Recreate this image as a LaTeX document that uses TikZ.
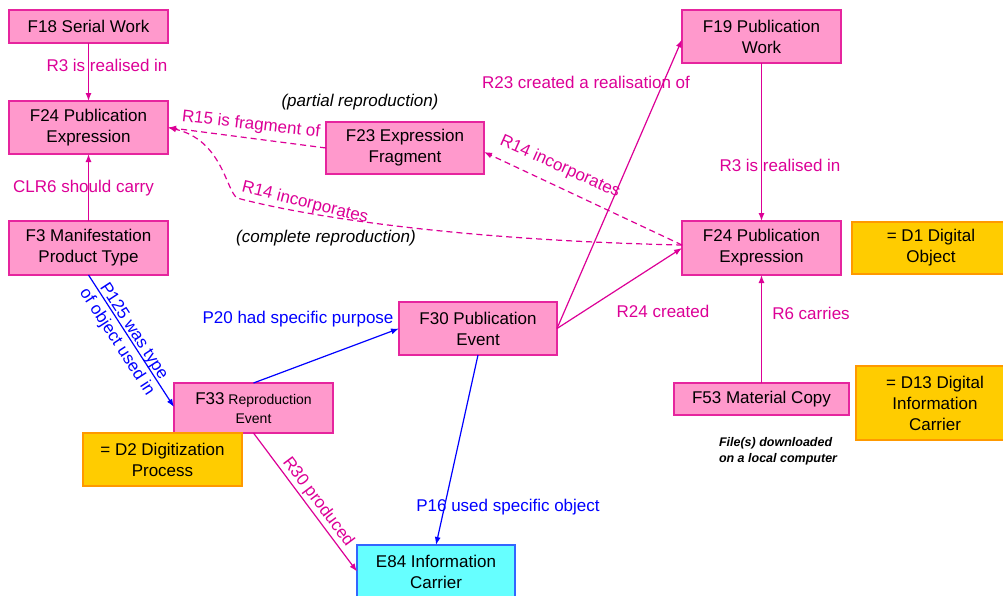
\documentclass[tikz,border=0pt]{standalone}
\usepackage{fontspec}
\setmainfont{Liberation Sans}
\usetikzlibrary{arrows.meta}
\definecolor{pinkfill}{HTML}{FF99CC}
\definecolor{pinkline}{HTML}{E6259E}
\definecolor{lab}{HTML}{DC0096}
\definecolor{cyanfill}{HTML}{66FFFF}
\definecolor{cyanline}{HTML}{3366FF}
\definecolor{yelfill}{HTML}{FFCC00}
\definecolor{yelline}{HTML}{FF9900}
\definecolor{blu}{HTML}{0000FF}
\begin{document}
\begin{tikzpicture}[x=1pt,y=-1pt,
  every node/.style={inner sep=0pt,outer sep=0pt},
  big/.style={font=\fontsize{17}{21}\selectfont},
  box/.style={big,draw=pinkline,fill=pinkfill,line width=1.3pt,align=center,minimum width=159pt},
  ybox/.style={big,draw=yelline,fill=yelfill,line width=1.3pt,align=center,minimum width=158pt},
  cbox/.style={big,draw=cyanline,fill=cyanfill,line width=1.3pt,align=center,minimum width=158pt},
  lbl/.style={big,text=lab},
  blbl/.style={big,text=blu},
  note/.style={big,font=\fontsize{17}{21}\selectfont\itshape},
  pk/.style={draw=lab,line width=1.2pt,-{Latex[length=8pt,width=6pt]}},
  pkd/.style={pk,dash pattern=on 6pt off 4pt},
  bl/.style={draw=blu,line width=1.2pt,-{Latex[length=8pt,width=6pt]}}
]
\useasboundingbox (0,0) rectangle (1003,595);

% nodes
\node[box,minimum height=33pt] (F18) at (88.5,26.5) {F18 Serial Work};
\node[box,minimum height=53pt] (F24L) at (88.5,127.5) {F24 Publication\\Expression};
\node[box,minimum height=54pt] (F3) at (88.5,248) {F3 Manifestation\\Product Type};
\node[box,minimum width=158pt,minimum height=52pt] (F23) at (405,148) {F23 Expression\\Fragment};
\node[box,minimum height=53pt] (F19) at (761.5,36.5) {F19 Publication\\Work};
\node[box,minimum height=54pt] (F24R) at (761.5,248) {F24 Publication\\Expression};
\node[ybox,minimum height=52pt] (D1) at (931,248) {= D1 Digital\\Object};
\node[box,minimum width=158pt,minimum height=53pt] (F30) at (478,328.5) {F30 Publication\\Event};
\node[box,minimum width=175pt,minimum height=32pt] (F53) at (761.5,399) {F53 Material Copy};
\node[ybox,minimum height=74pt] (D13) at (935,403) {= D13 Digital\\Information\\Carrier};
\node[box,minimum height=50pt,font=\fontsize{14}{19}\selectfont] (F33) at (253.5,408) {{\fontsize{17}{19}\selectfont F33} Reproduction\\Event};
\node[ybox,minimum width=159pt,minimum height=53pt] (D2) at (162.5,459.5) {= D2 Digitization\\Process};
\node[cbox,minimum height=53pt] (E84) at (436,571.5) {E84 Information\\Carrier};

% notes
\node[note] (n1) at (360,102) {(partial reproduction)};
\node[note] (n2) at (326,238) {(complete reproduction)};
\node[font=\fontsize{12.5}{16}\selectfont\bfseries\itshape,align=left,anchor=west] (n3) at (719,451) {File(s) downloaded\\on a local computer};

% connectors
\draw[pk] (F18) -- (F24L);
\draw[pk] (F3) -- (F24L);
\draw[pkd] (F23.west) -- (F24L.east);
\draw[pkd] ([yshift=3pt]F24R.west) .. controls (450,240) and (300,215) .. (237,198)
   .. controls (226,190) and (222,140) .. (F24L.east);
\draw[pkd] ([yshift=3pt]F24R.west) -- ([yshift=-4pt]F23.east);
\draw[pk] (F30.east) -- ([yshift=-3pt]F19.west);
\draw[pk] (F30.east) -- (F24R.west);
\draw[pk] (F19) -- (F24R);
\draw[pk] (F53) -- (F24R);
\draw[bl] (F30.south) -- (E84.north);
\draw[bl] (F33.north) -- (F30.west);
\draw[bl] (F3.south) -- ([yshift=1pt]F33.west);
\draw[pk] (F33.south) -- (E84.west);

% labels
\node[lbl] (l1) at (107,65) {R3 is realised in};
\node[lbl] (l2) at (83.5,188) {CLR6 should carry};
\node[lbl,rotate=-6.5] (l3) at (251,125) {R15 is fragment of};
\node[lbl,rotate=-14] (l4) at (305,203) {R14 incorporates};
\node[lbl,rotate=-24] (l5) at (560,167) {R14 incorporates};
\node[lbl] (l6) at (586,82) {R23 created a realisation of};
\node[lbl] (l7) at (663,311) {R24 created};
\node[lbl] (l8) at (780,165) {R3 is realised in};
\node[lbl] (l9) at (811,313) {R6 carries};
\node[blbl] (l10) at (508,507) {P16 used specific object};
\node[blbl] (l11) at (298,319) {P20 had specific purpose};
\node[blbl,rotate=-57,align=center,font=\fontsize{17}{20}\selectfont] (l12) at (125,337) {P125 was type\\of object used in};
\node[lbl,rotate=-53] (l13) at (318,502) {R30 produced};
\end{tikzpicture}
\end{document}
